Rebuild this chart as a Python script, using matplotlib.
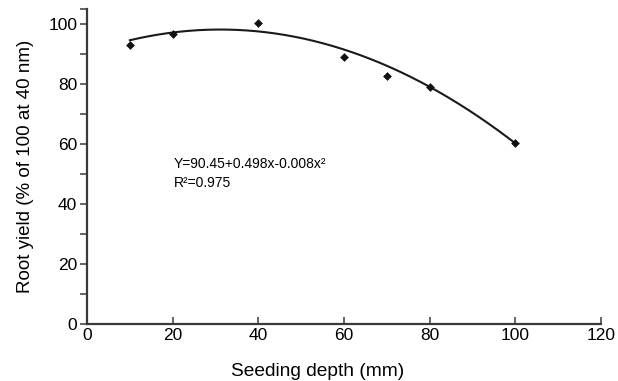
import matplotlib
matplotlib.use("Agg")
import matplotlib.pyplot as plt
import numpy as np

plt.rcParams.update({"font.family": ["Liberation Sans", "DejaVu Sans"]})

# observed data
depth = [10, 20, 40, 60, 70, 80, 100]
yield_pct = [93.2, 96.8, 100.3, 89.2, 82.6, 79.2, 60.3]

# fitted quadratic shown on the chart
b0, b1, b2 = 90.45, 0.498, -0.008
fit_x = np.linspace(min(depth), max(depth), 200)
fit_y = b0 + b1 * fit_x + b2 * fit_x ** 2

AXC = "#3a3a3a"

fig = plt.figure(figsize=(6.18, 3.81), dpi=100)
ax = fig.add_axes([0.1408, 0.1496, 0.8317, 0.8264])

ax.plot(fit_x, fit_y, color="#1a1a1a", lw=1.5, zorder=2)
ax.scatter(depth, yield_pct, marker="D", s=20, color="#111111", zorder=3, linewidths=0)

ax.set_xlim(0, 120)
ax.set_ylim(0, 105)
ax.set_xticks(range(0, 121, 20))
ax.set_yticks(range(0, 101, 20))
ax.set_yticks(list(range(10, 101, 20)) + [105], minor=True)

for s in ("top", "right"):
    ax.spines[s].set_visible(False)
for s in ("left", "bottom"):
    ax.spines[s].set_color(AXC)
    ax.spines[s].set_linewidth(1.6)

ax.tick_params(axis="y", which="both", direction="out", length=5, width=1.1, color=AXC, labelsize=12.5, pad=2)
ax.tick_params(axis="x", which="both", direction="in", length=5, width=1.1, color=AXC, labelsize=12.5, pad=3)

ax.set_xlabel("Seeding depth (mm)", fontsize=13.75)
ax.set_ylabel("Root yield (% of 100 at 40 nm)", fontsize=13.5)
ax.xaxis.set_label_coords(0.449, -0.124)
ax.yaxis.set_label_coords(-0.103, 0.5)

ax.text(20.2, 53.5, "Y=90.45+0.498x-0.008x²", fontsize=10, va="center")
ax.text(20.2, 47.0, "R²=0.975", fontsize=10, va="center")

fig.savefig("out.png", dpi=100)
